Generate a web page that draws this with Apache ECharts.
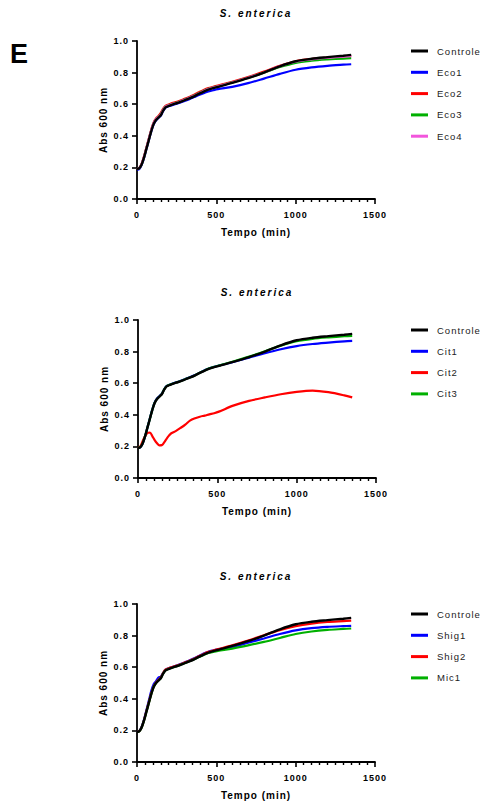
<!DOCTYPE html>
<html>
<head>
<meta charset="utf-8">
<script src="https://cdn.jsdelivr.net/npm/echarts@6/dist/echarts.min.js"></script>
<style>
  html, body { margin: 0; padding: 0; background: #fff; }
  #chart { width: 486px; height: 805px; }
  #chart text { letter-spacing: 1px; }
  #chart text[style*="italic"] { letter-spacing: 2px; }
</style>
</head>
<body>
<div id="chart"></div>
<script>
// Time points (min)
const tempo = [0,15,30,45,60,75,90,105,120,135,150,165,180,195,210,240,270,300,330,360,390,420,450,480,510,600,700,800,900,1000,1100,1200,1300,1350];

// Control growth curve (shared by the three panels)
const controle = [0.19,0.195,0.22,0.265,0.32,0.375,0.43,0.475,0.50,0.515,0.53,0.56,0.58,0.587,0.593,0.603,0.613,0.625,0.637,0.65,0.665,0.68,0.693,0.702,0.71,0.735,0.765,0.80,0.84,0.872,0.888,0.898,0.907,0.912];

// Panel 1
const eco1 = [0.185,0.19,0.218,0.262,0.318,0.373,0.428,0.473,0.498,0.513,0.528,0.558,0.578,0.585,0.591,0.6,0.61,0.621,0.632,0.645,0.658,0.67,0.68,0.688,0.695,0.71,0.733,0.762,0.792,0.818,0.833,0.843,0.85,0.853];
const eco2 = [0.19,0.197,0.225,0.272,0.328,0.385,0.44,0.485,0.51,0.525,0.545,0.572,0.59,0.597,0.603,0.612,0.622,0.634,0.646,0.66,0.675,0.69,0.702,0.71,0.718,0.742,0.772,0.806,0.843,0.872,0.886,0.895,0.902,0.905];
const eco3 = [0.19,0.196,0.222,0.268,0.324,0.38,0.435,0.48,0.505,0.52,0.538,0.566,0.585,0.592,0.598,0.607,0.617,0.629,0.641,0.655,0.67,0.685,0.697,0.706,0.713,0.738,0.767,0.8,0.835,0.862,0.875,0.883,0.889,0.892];
const eco4 = [0.19,0.197,0.224,0.27,0.326,0.382,0.437,0.481,0.505,0.519,0.536,0.565,0.584,0.591,0.597,0.606,0.616,0.628,0.64,0.653,0.668,0.683,0.696,0.705,0.713,0.737,0.767,0.801,0.84,0.869,0.884,0.894,0.901,0.904];

// Panel 2
const cit1 = [0.19,0.195,0.22,0.265,0.322,0.378,0.433,0.478,0.503,0.518,0.533,0.562,0.582,0.589,0.595,0.605,0.615,0.627,0.639,0.652,0.667,0.682,0.695,0.703,0.711,0.734,0.762,0.79,0.815,0.835,0.848,0.857,0.865,0.868];
const cit2 = [0.19,0.2,0.235,0.265,0.285,0.288,0.265,0.24,0.22,0.207,0.208,0.225,0.248,0.268,0.283,0.298,0.318,0.34,0.365,0.378,0.388,0.395,0.403,0.41,0.42,0.458,0.488,0.51,0.53,0.545,0.553,0.543,0.523,0.51];
const cit3 = [0.19,0.196,0.221,0.266,0.321,0.376,0.431,0.476,0.501,0.516,0.531,0.561,0.581,0.588,0.594,0.604,0.614,0.626,0.638,0.651,0.666,0.681,0.694,0.703,0.711,0.737,0.768,0.802,0.838,0.866,0.881,0.89,0.897,0.9];

// Panel 3
const shig1 = [0.19,0.197,0.225,0.272,0.33,0.39,0.45,0.492,0.512,0.535,0.54,0.565,0.585,0.592,0.598,0.608,0.618,0.63,0.642,0.656,0.671,0.686,0.698,0.706,0.713,0.728,0.755,0.782,0.81,0.833,0.847,0.855,0.86,0.862];
const shig2 = [0.19,0.196,0.222,0.268,0.324,0.38,0.434,0.479,0.504,0.52,0.535,0.565,0.585,0.592,0.598,0.607,0.617,0.629,0.641,0.654,0.669,0.684,0.697,0.706,0.714,0.738,0.768,0.802,0.835,0.86,0.876,0.886,0.892,0.895];
const mic1 = [0.19,0.195,0.22,0.265,0.32,0.375,0.43,0.476,0.5,0.516,0.531,0.56,0.58,0.587,0.593,0.603,0.613,0.625,0.637,0.65,0.664,0.678,0.69,0.697,0.703,0.718,0.738,0.76,0.785,0.81,0.826,0.836,0.842,0.845];

const xTicks = { min: 0, max: 1500, interval: 500 };
const yTicks = { min: 0, max: 1.0, interval: 0.2 };

const panelTitle = 'S. enterica';
const xName = 'Tempo (min)';
const yName = 'Abs 600 nm';

const colors = { black: '#000000', blue: '#0000ff', red: '#ff0000', green: '#00b000', pink: '#f255dc' };

const panels = [
  { top: 41, left: 137, legendTop: 44,
    series: [['Eco1', eco1, colors.blue], ['Eco2', eco2, colors.red], ['Eco3', eco3, colors.green], ['Eco4', eco4, colors.pink]] },
  { top: 320, left: 138, legendTop: 323,
    series: [['Cit1', cit1, colors.blue], ['Cit2', cit2, colors.red], ['Cit3', cit3, colors.green]] },
  { top: 604, left: 137, legendTop: 607,
    series: [['Shig1', shig1, colors.blue], ['Shig2', shig2, colors.red], ['Mic1', mic1, colors.green]] }
];

const FONT = '"Liberation Sans", Arial, sans-serif';

const grid = [], xAxis = [], yAxis = [], series = [], legend = [], graphic = [];

graphic.push({ type: 'text', left: 10, top: 40,
  style: { text: 'E', font: 'bold 27px ' + FONT, fill: '#000' } });

panels.forEach((p, i) => {
  grid.push({ left: p.left, top: p.top, width: 238, height: 158, containLabel: false });
  xAxis.push({
    type: 'value', gridIndex: i, min: xTicks.min, max: xTicks.max, interval: xTicks.interval,
    name: xName, nameLocation: 'middle', nameGap: 28,
    nameTextStyle: { fontFamily: FONT, fontWeight: 'bold', fontSize: 10, color: '#000' },
    axisLine: { show: true, onZero: false, lineStyle: { color: '#000', width: 1.8 } },
    axisTick: { show: true, length: 5, lineStyle: { color: '#000', width: 1.6 } },
    minorTick: { show: true, splitNumber: 10, length: 3, lineStyle: { color: '#000', width: 1.4 } },
    axisLabel: { margin: 11, fontFamily: FONT, fontWeight: 'bold', fontSize: 9, color: '#000',
      formatter: v => String(v) },
    splitLine: { show: false }
  });
  yAxis.push({
    type: 'value', gridIndex: i, min: yTicks.min, max: yTicks.max, interval: yTicks.interval,
    name: yName, nameLocation: 'middle', nameGap: 29, nameRotate: 90,
    nameTextStyle: { fontFamily: FONT, fontWeight: 'bold', fontSize: 10, color: '#000' },
    axisLine: { show: true, onZero: false, lineStyle: { color: '#000', width: 1.8 } },
    axisTick: { show: true, length: 5, lineStyle: { color: '#000', width: 1.6 } },
    axisLabel: { margin: 8, fontFamily: FONT, fontWeight: 'bold', fontSize: 9, color: '#000',
      formatter: v => v.toFixed(1) },
    splitLine: { show: false }
  });
  graphic.push({ type: 'text', x: p.left + 119, y: p.top - 28,
    style: { text: panelTitle, font: 'italic bold 10px ' + FONT, fill: '#000', textAlign: 'center', textVerticalAlign: 'middle' } });

  const names = ['Controle'];
  p.series.forEach(([name, data, color]) => {
    names.push(name);
    series.push({
      type: 'line', name, xAxisIndex: i, yAxisIndex: i,
      data: tempo.map((t, k) => [t, data[k]]),
      showSymbol: false, smooth: 0.3,
      lineStyle: { color, width: 2.2 }, itemStyle: { color }, z: 2
    });
  });
  series.push({
    type: 'line', name: 'Controle', xAxisIndex: i, yAxisIndex: i,
    data: tempo.map((t, k) => [t, controle[k]]),
    showSymbol: false, smooth: 0.3,
    lineStyle: { color: colors.black, width: 2.4 }, itemStyle: { color: colors.black }, z: 3
  });
  legend.push({
    data: names, orient: 'vertical', left: 411, top: p.legendTop,
    icon: 'rect', itemWidth: 17, itemHeight: 3, itemGap: 7.3, padding: 0,
    selectedMode: false,
    textStyle: { fontFamily: FONT, fontSize: 9.5, color: '#222', lineHeight: 14, padding: [0, 0, 0, 4] }
  });
});

const chart = echarts.init(document.getElementById('chart'), null, { renderer: 'svg' });
chart.setOption({
  animation: false,
  backgroundColor: '#fff',
  grid, xAxis, yAxis, series, legend, graphic
});
</script>
</body>
</html>
